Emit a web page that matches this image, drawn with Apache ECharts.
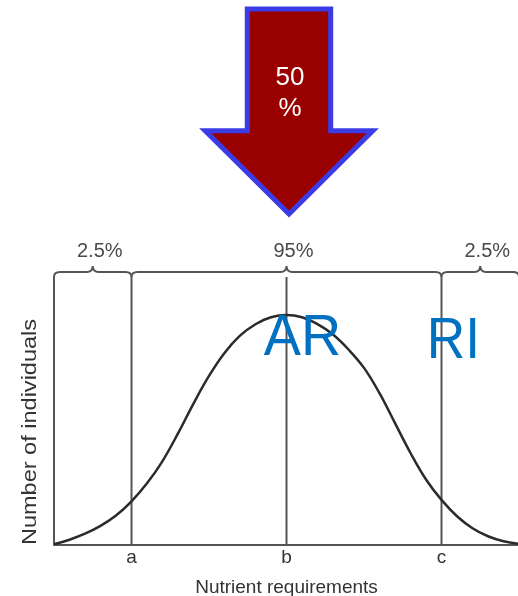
<!DOCTYPE html>
<html>
<head>
<meta charset="utf-8">
<script src="https://cdn.jsdelivr.net/npm/echarts@6/dist/echarts.min.js"></script>
<style>html,body{margin:0;padding:0;background:#fff}#c{width:518px;height:596px}</style>
</head>
<body>
<div id="c"></div>
<script>
// ---- data ----
var curveX = [0,2,4,6,8,10,12,14,16,18,20,22,24,26,28,30,32,34,36,38,40,42,44,46,48,50,52,54,56,58,60];
var curveY = [0.3,2.3,4.9,8.3,12.8,19,26.8,36.5,48.5,61.5,73.5,83.5,91,96,99,100,99,96,91.5,85,77,66,53,40,28.5,19.6,12.5,7.3,3.8,1.6,0.5];
var tickValues = [10,30,50];
var tickLabels = ['a','b','c'];
var verticalLines = [0,10,30,50];
var vLineTop = 116.5;
var braceStarts = [0,10,50];
var braceEnds = [10,50,60];
var braceLabels = ['2.5%','95%','2.5%'];
var braceLevel = 118.7;
var arrowText = '50\n%';
var annotations = ['AR','RI'];

var FONT = '"Liberation Sans", Arial, sans-serif';
var chart = echarts.init(document.getElementById('c'), null, {renderer:'canvas'});

var curveData = curveX.map(function(x,i){return [x, curveY[i]];});
var braceData = braceStarts.map(function(s,i){return [s, braceEnds[i], i];});

var option = {
  animation:false,
  backgroundColor:'#fff',
  grid:{left:54, right:-1, top:269, bottom:51, outerBoundsMode:'none', containLabel:false},
  xAxis:{
    type:'value', min:0, max:60, interval:10,
    axisLine:{show:true, onZero:false, lineStyle:{color:'#555', width:2}},
    axisTick:{show:false},
    splitLine:{show:false},
    axisLabel:{
      margin:3, color:'#333', fontSize:19, fontFamily:FONT,
      formatter:function(v){var k=tickValues.indexOf(v);return k>=0?tickLabels[k]:'';}
    },
    name:'Nutrient requirements', nameLocation:'middle', nameGap:33,
    nameTextStyle:{color:'#333', fontSize:19, fontFamily:FONT}
  },
  yAxis:{
    type:'value', min:0, max:120,
    axisLine:{show:false}, axisTick:{show:false}, axisLabel:{show:false}, splitLine:{show:false}
  },
  series:[
    {
      type:'custom', silent:true, clip:false, z:1,
      data:verticalLines.map(function(v){return [v];}),
      renderItem:function(params, api){
        var x = api.value(0);
        var p0 = api.coord([x,0]), p1 = api.coord([x,vLineTop]);
        return {type:'line', shape:{x1:p0[0], y1:p0[1], x2:p1[0], y2:p1[1]},
          style:{stroke:'#555', lineWidth:2}};
      }
    },
    {
      type:'custom', silent:true, clip:false, z:2,
      data:braceData,
      renderItem:function(params, api){
        var s = api.value(0), e = api.value(1), i = api.value(2);
        var a = api.coord([s, vLineTop]), b = api.coord([e, vLineTop]);
        var yl = api.coord([s, braceLevel])[1];
        var x0 = a[0], x1 = b[0], yb = a[1], xm = (x0+x1)/2, yt = yl-6, r = 6;
        var d = 'M'+x0+','+yb+' Q'+x0+','+yl+' '+(x0+r)+','+yl+
                ' L'+(xm-r)+','+yl+' Q'+xm+','+yl+' '+xm+','+yt+
                ' Q'+xm+','+yl+' '+(xm+r)+','+yl+
                ' L'+(x1-r)+','+yl+' Q'+x1+','+yl+' '+x1+','+yb;
        return {type:'group', children:[
          {type:'path', shape:{pathData:d}, style:{fill:null, stroke:'#555', lineWidth:2}},
          {type:'text', style:{text:braceLabels[i], x:xm+7, y:yl-21, align:'center', verticalAlign:'middle',
            fontSize:20, fontFamily:FONT, fill:'#4a4a4a'}}
        ]};
      }
    },
    {
      type:'line', data:curveData, smooth:0.4, symbol:'none', z:3,
      lineStyle:{color:'#2b2b2b', width:2.5}
    }
  ]
};
chart.setOption(option);

var cx = chart.convertToPixel({xAxisIndex:0}, tickValues[1]) + 2.5;
var cAR = chart.convertToPixel({xAxisIndex:0}, tickValues[1]);
var cRI = chart.convertToPixel({xAxisIndex:0}, tickValues[2]);
chart.setOption({
  graphic:[
    {type:'polygon', z:10,
      shape:{points:[[cx-41.7,9],[cx+41.7,9],[cx+41.7,130.7],[cx+83.8,130.7],[cx,214],[cx-83.8,130.7],[cx-41.7,130.7]]},
      style:{fill:'#990000', stroke:'#3c3ce6', lineWidth:5, lineJoin:'miter'}},
    {type:'text', z:11, x:cx+1, y:93,
      style:{text:arrowText, align:'center', verticalAlign:'middle', fontSize:26, lineHeight:31, fontFamily:FONT, fill:'#fff'}},
    {type:'text', z:12, x:cAR+16, y:339, scaleX:0.96,
      style:{text:annotations[0], align:'center', verticalAlign:'middle', fontSize:58, fontFamily:FONT, fill:'#0070C0'}},
    {type:'text', z:12, x:cRI+12, y:342, scaleX:0.92,
      style:{text:annotations[1], align:'center', verticalAlign:'middle', fontSize:58, fontFamily:FONT, fill:'#0070C0'}},
    {type:'text', z:12, x:30, y:432, rotation:Math.PI/2, scaleX:1.12,
      style:{text:'Number of individuals', align:'center', verticalAlign:'middle', fontSize:21, fontFamily:FONT, fill:'#333'}}
  ]
});
</script>
</body>
</html>
